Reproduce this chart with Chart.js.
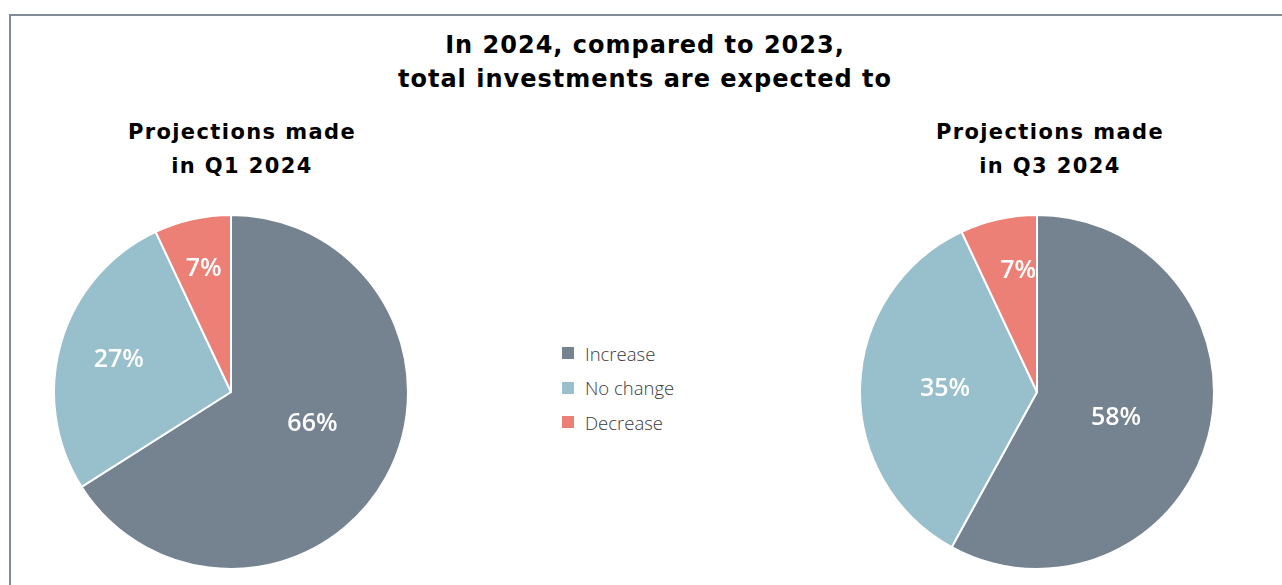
<!DOCTYPE html>
<html><head><meta charset="utf-8">
<script src="https://cdn.jsdelivr.net/npm/chart.js@4/dist/chart.umd.min.js"></script>
<style>
html,body{margin:0;padding:0;background:#fff;width:1282px;height:585px;overflow:hidden;position:relative;}
#frame{position:absolute;left:9px;top:14px;width:1400px;height:700px;border:2px solid #818c98;box-sizing:border-box;}
.t{position:absolute;font-family:"DejaVu Sans",sans-serif;font-weight:bold;color:#000;text-align:center;}
#main{left:295px;width:700px;top:28px;font-size:24px;line-height:34px;letter-spacing:1px;}
#s1{left:62px;width:360px;top:115px;font-size:21px;line-height:34px;letter-spacing:1.4px;}
#s3{left:870px;width:360px;top:115px;font-size:21px;line-height:34px;letter-spacing:1.4px;}
canvas{position:absolute;}
#legend{position:absolute;left:562px;top:336px;font-family:"Open Sans",sans-serif;font-weight:300;font-size:18.5px;color:#3a3a3a;}
.li{height:34.5px;display:flex;align-items:center;}
.sw{width:12px;height:12px;margin-right:11px;}
</style></head><body>
<div id="frame"></div>
<div class="t" id="main">In 2024, compared to 2023,<br>total investments are expected to</div>
<div class="t" id="s1">Projections made<br>in Q1 2024</div>
<div class="t" id="s3">Projections made<br>in Q3 2024</div>
<div style="position:absolute;left:53px;top:214px;width:356px;height:356px;"><canvas id="c1"></canvas></div>
<div style="position:absolute;left:859px;top:214px;width:356px;height:356px;"><canvas id="c3"></canvas></div>
<div id="legend"></div>
<script>
const categories = ["Increase", "No change", "Decrease"];
const q1Values = [66, 27, 7];
const q3Values = [58, 35, 7];
const colors = ["#75828f", "#97bfcc", "#ec8077"];
const q1LabelRadius = [0.494, 0.66, 0.71];
const q1LabelShift = [-7.5, 0, 0];
const q3LabelRadius = [0.47, 0.52, 0.69];
const q3LabelShift = [3.6, 0, 3.7];

const labelPlugin = {
  id: 'pctLabels',
  afterDatasetsDraw(chart) {
    const ctx = chart.ctx;
    const meta = chart.getDatasetMeta(0);
    const o = chart.options.plugins.pctLabels;
    ctx.save();
    ctx.fillStyle = '#fff';
    ctx.font = '600 25px "Open Sans", sans-serif';
    ctx.textAlign = 'center';
    ctx.textBaseline = 'middle';
    meta.data.forEach((arc, i) => {
      const p = arc.getProps(['startAngle','endAngle','outerRadius','x','y'], true);
      const a = (p.startAngle + p.endAngle) / 2 + o.shift[i] * Math.PI / 180;
      const r = p.outerRadius * o.radius[i];
      ctx.fillText(chart.data.datasets[0].data[i] + '%', p.x + Math.cos(a) * r, p.y + Math.sin(a) * r);
    });
    ctx.restore();
  }
};

function makePie(id, values, radius, shift) {
  new Chart(document.getElementById(id), {
    type: 'pie',
    data: { labels: categories, datasets: [{ data: values, backgroundColor: colors, borderColor: '#fff', borderWidth: 2 }] },
    options: {
      responsive: true, maintainAspectRatio: false, animation: false,
      layout: { padding: 0 },
      plugins: { legend: { display: false }, tooltip: { enabled: false }, pctLabels: { radius: radius, shift: shift } }
    },
    plugins: [labelPlugin]
  });
}
makePie('c1', q1Values, q1LabelRadius, q1LabelShift);
makePie('c3', q3Values, q3LabelRadius, q3LabelShift);

const lg = document.getElementById('legend');
categories.forEach((c, i) => {
  const d = document.createElement('div'); d.className = 'li';
  d.innerHTML = '<span class="sw" style="background:' + colors[i] + '"></span><span>' + c + '</span>';
  lg.appendChild(d);
});
</script>
</body></html>
